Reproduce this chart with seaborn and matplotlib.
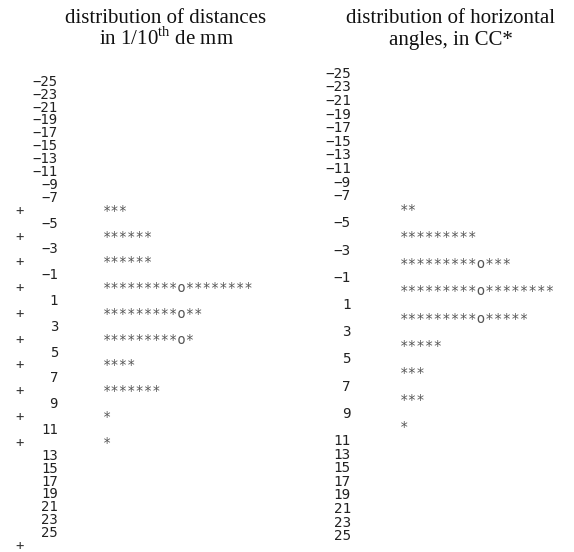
import matplotlib.pyplot as plt
import seaborn as sns

# stem labels (class limits), odd values from -25 to 25
labels = list(range(-25, 27, 2))

# left: distances, counts per class (class centre between two limits)
dist_bins = [-6, -4, -2, 0, 2, 4, 6, 8, 10, 12]
dist_counts = [3, 6, 6, 18, 12, 11, 4, 7, 1, 1]

# right: horizontal angles
angle_bins = [-6, -4, -2, 0, 2, 4, 6, 8, 10]
angle_counts = [2, 9, 13, 18, 15, 5, 3, 3, 1]

title_left = ["distribution of distances", "in 1/10$^{\\rm th}$ de mm"]
title_right = ["distribution of horizontal", "angles, in CC*"]

MARK_AT = 10  # 10th symbol of a row is printed as 'o'

sns.set_theme(style="white")
plt.rcParams["mathtext.fontset"] = "custom"
plt.rcParams["mathtext.rm"] = "Liberation Serif"


def build_lines(bins, counts, trailing_plus=False):
    cnt = dict(zip(bins, counts))
    lines = []
    for lab in labels:
        lines.append(("label", f"{lab:d}".replace("-", "\u2212")))
        n = cnt.get(lab + 1, 0)
        if n:
            s = "*" * n
            if n >= MARK_AT:
                s = s[:MARK_AT - 1] + "o" + s[MARK_AT:]
            lines.append(("stars", s))
    if trailing_plus:
        lines.append(("end", ""))
    return lines


def draw_panel(ax, lines, x_lab, x_star, y0, dy, fs, plus_x=None):
    fs_px = fs * 100 / 72
    for i, (kind, txt) in enumerate(lines):
        yb = y0 + i * dy + 0.36 * fs_px
        if kind == "label":
            ax.text(x_lab, yb, txt, ha="right", va="baseline", fontsize=fs,
                    family="DejaVu Sans Mono", color="#222222")
        elif kind == "stars":
            ax.text(x_star, yb, txt, ha="left", va="baseline", fontsize=fs,
                    family="DejaVu Sans Mono", color="#555555")
        if plus_x is not None and kind != "label":
            ax.text(plus_x, yb, "+", ha="center", va="baseline", fontsize=fs,
                    family="DejaVu Sans Mono", color="#333333")


fig = plt.figure(figsize=(5.74, 5.52), dpi=100)
ax = fig.add_axes([0, 0, 1, 1])
ax.set_xlim(0, 574)
ax.set_ylim(552, 0)
ax.axis("off")

draw_panel(ax, build_lines(dist_bins, dist_counts, trailing_plus=True),
           x_lab=58, x_star=103, y0=80.7, dy=12.9, fs=10, plus_x=20)
draw_panel(ax, build_lines(angle_bins, angle_counts),
           x_lab=351, x_star=400, y0=72.7, dy=13.6, fs=10.3)

for x, ttl in [(166, title_left), (451, title_right)]:
    ax.text(x, 23, ttl[0], ha="center", va="baseline", fontsize=15,
            family="Liberation Serif", color="#111111")
    ax.text(x, 45, ttl[1], ha="center", va="baseline", fontsize=15,
            family="Liberation Serif", color="#111111")

fig.savefig("out.png", dpi=100)
